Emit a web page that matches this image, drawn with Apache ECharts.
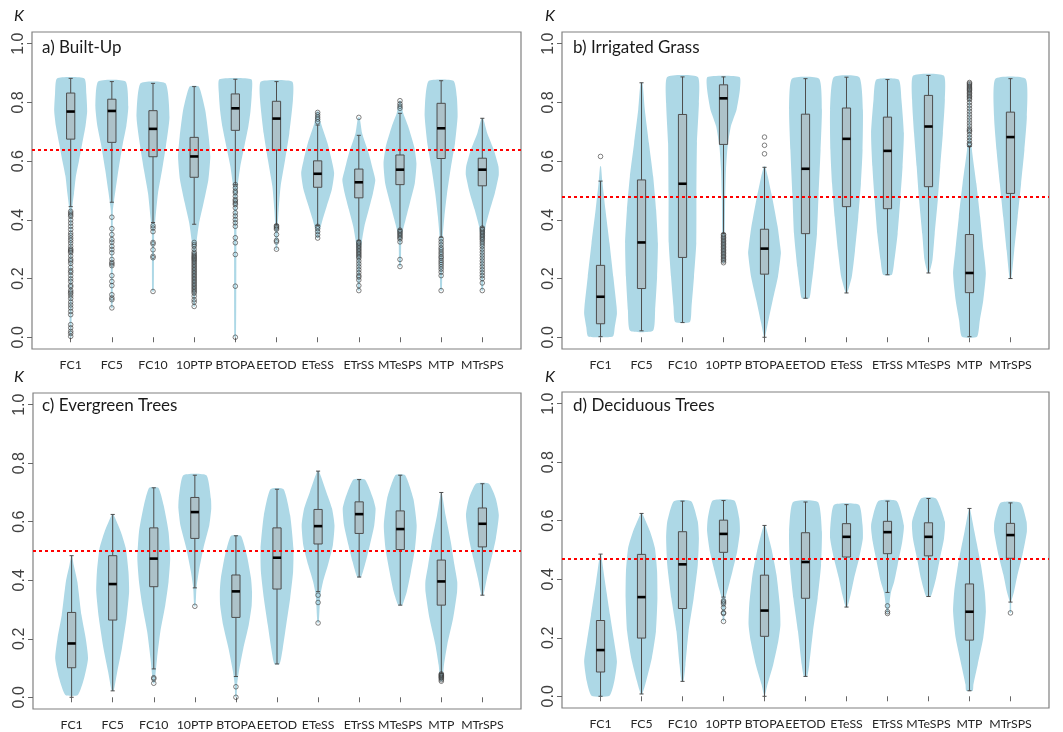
<!DOCTYPE html>
<html><head><meta charset="utf-8">
<script src="https://cdn.jsdelivr.net/npm/echarts@6/dist/echarts.min.js"></script>
<style>html,body{margin:0;padding:0;background:#fff}#c{width:1063px;height:732px}</style>
</head><body><div id="c"></div>
<script>
const categories = ['FC1','FC5','FC10','10PTP','BTOPA','EETOD','ETeSS','ETrSS','MTeSPS','MTP','MTrSPS'];
const yTicks = [0, 0.2, 0.4, 0.6, 0.8, 1.0];
const panelTitles = ['a) Built-Up', 'b) Irrigated Grass', 'c) Evergreen Trees', 'd) Deciduous Trees'];
const refLines = [0.637, 0.476, 0.499, 0.469];

// box stats per category: [lower whisker, Q1, median, Q3, upper whisker]
const boxA = [[0.445,0.675,0.769,0.832,0.882],[0.460,0.664,0.771,0.811,0.871],[0.391,0.615,0.71,0.772,0.865],[0.385,0.545,0.616,0.681,0.854],[0.52,0.705,0.78,0.829,0.879],[0.383,0.638,0.745,0.804,0.871],[0.381,0.511,0.557,0.601,0.723],[0.329,0.475,0.528,0.573,0.688],[0.368,0.52,0.571,0.621,0.763],[0.341,0.609,0.712,0.797,0.874],[0.375,0.516,0.571,0.61,0.746]];
const boxB = [[0.002,0.046,0.138,0.245,0.532],[0.022,0.166,0.323,0.536,0.867],[0.05,0.272,0.523,0.759,0.887],[0.353,0.657,0.814,0.86,0.887],[0.0,0.215,0.302,0.368,0.579],[0.133,0.353,0.574,0.76,0.881],[0.151,0.445,0.676,0.781,0.886],[0.213,0.438,0.635,0.75,0.878],[0.219,0.513,0.718,0.824,0.892],[0.002,0.152,0.219,0.35,0.65],[0.2,0.49,0.682,0.767,0.881]];
const boxC = [[0.0,0.101,0.184,0.29,0.484],[0.022,0.264,0.387,0.484,0.625],[0.097,0.378,0.474,0.579,0.716],[0.374,0.543,0.633,0.683,0.759],[0.071,0.273,0.362,0.418,0.552],[0.114,0.37,0.477,0.579,0.711],[0.361,0.524,0.585,0.642,0.773],[0.411,0.56,0.626,0.668,0.744],[0.315,0.505,0.575,0.637,0.759],[0.082,0.315,0.396,0.469,0.70],[0.349,0.514,0.593,0.647,0.73]];
const boxD = [[0.0,0.083,0.158,0.259,0.486],[0.008,0.199,0.339,0.485,0.625],[0.051,0.3,0.451,0.5625,0.667],[0.339,0.492,0.555,0.602,0.669],[0.0,0.205,0.293,0.414,0.584],[0.068,0.335,0.459,0.559,0.664],[0.305,0.476,0.545,0.59,0.655],[0.355,0.4875,0.561,0.598,0.667],[0.341,0.48,0.545,0.593,0.676],[0.019,0.192,0.289,0.384,0.642],[0.322,0.4716,0.551,0.591,0.661]];

// violin outlines: [K value, relative half-width] from top to bottom
const violinA = [
 [[0.882,0.83],[0.83,0.95],[0.77,1.0],[0.72,0.9],[0.66,0.7],[0.60,0.5],[0.55,0.32],[0.49,0.2],[0.445,0.1],[0.40,0.06],[0.0,0.05]],
 [[0.871,0.83],[0.786,1.0],[0.72,0.88],[0.661,0.67],[0.57,0.4],[0.50,0.22],[0.468,0.14],[0.43,0.06],[0.10,0.05]],
 [[0.865,0.76],[0.75,1.0],[0.65,0.78],[0.57,0.55],[0.49,0.3],[0.40,0.14],[0.355,0.07],[0.156,0.05]],
 [[0.854,0.28],[0.774,0.67],[0.684,0.88],[0.616,0.98],[0.536,0.86],[0.457,0.57],[0.389,0.3],[0.332,0.16],[0.287,0.08],[0.105,0.05]],
 [[0.879,0.97],[0.83,1.0],[0.77,0.92],[0.718,0.79],[0.638,0.5],[0.582,0.3],[0.525,0.16],[0.47,0.08],[0.0,0.05]],
 [[0.871,0.95],[0.81,1.0],[0.695,0.78],[0.604,0.52],[0.514,0.25],[0.434,0.13],[0.383,0.08],[0.298,0.05]],
 [[0.769,0.06],[0.729,0.2],[0.661,0.6],[0.604,0.85],[0.559,1.0],[0.503,0.86],[0.446,0.55],[0.40,0.3],[0.366,0.14],[0.338,0.06]],
 [[0.749,0.05],[0.695,0.2],[0.627,0.6],[0.57,0.86],[0.536,1.0],[0.491,0.86],[0.434,0.6],[0.378,0.34],[0.332,0.2],[0.287,0.1],[0.159,0.05]],
 [[0.806,0.05],[0.763,0.2],[0.718,0.5],[0.65,0.86],[0.593,1.0],[0.525,0.9],[0.457,0.6],[0.40,0.34],[0.36,0.16],[0.332,0.08],[0.241,0.05]],
 [[0.874,0.75],[0.82,0.95],[0.752,1.0],[0.661,0.84],[0.582,0.6],[0.491,0.36],[0.412,0.2],[0.344,0.1],[0.159,0.05]],
 [[0.746,0.05],[0.695,0.3],[0.638,0.7],[0.582,0.98],[0.553,1.0],[0.491,0.76],[0.434,0.46],[0.378,0.2],[0.332,0.1],[0.159,0.05]]
];
const violinB = [
 [[0.582,0.03],[0.536,0.1],[0.434,0.3],[0.32,0.55],[0.206,0.78],[0.104,0.98],[0.08,1.0],[0.035,0.87],[0.003,0.75]],
 [[0.867,0.06],[0.776,0.2],[0.662,0.45],[0.548,0.71],[0.434,0.89],[0.32,1.0],[0.206,0.95],[0.092,0.83],[0.022,0.7]],
 [[0.887,0.93],[0.798,1.0],[0.662,0.88],[0.491,0.85],[0.32,0.84],[0.206,0.7],[0.104,0.55],[0.052,0.45]],
 [[0.887,0.98],[0.844,1.0],[0.776,0.8],[0.719,0.45],[0.65,0.25],[0.571,0.15],[0.468,0.1],[0.354,0.08],[0.254,0.05]],
 [[0.582,0.04],[0.548,0.2],[0.468,0.5],[0.377,0.8],[0.309,0.96],[0.286,1.0],[0.206,0.82],[0.126,0.5],[0.047,0.2],[0.0,0.03]],
 [[0.881,0.83],[0.776,1.0],[0.638,0.92],[0.49,0.8],[0.353,0.7],[0.239,0.5],[0.171,0.35],[0.133,0.23]],
 [[0.886,0.78],[0.775,1.0],[0.638,0.98],[0.524,0.88],[0.41,0.72],[0.296,0.52],[0.205,0.32],[0.151,0.05]],
 [[0.878,0.68],[0.81,0.85],[0.696,1.0],[0.582,0.92],[0.468,0.78],[0.353,0.62],[0.262,0.42],[0.213,0.27]],
 [[0.892,0.93],[0.81,1.0],[0.696,0.88],[0.582,0.72],[0.468,0.57],[0.353,0.38],[0.262,0.24],[0.219,0.05]],
 [[0.87,0.04],[0.70,0.06],[0.638,0.15],[0.524,0.42],[0.41,0.65],[0.296,0.86],[0.217,1.0],[0.125,0.84],[0.057,0.63],[0.002,0.46]],
 [[0.881,0.92],[0.752,1.0],[0.638,0.85],[0.524,0.65],[0.41,0.44],[0.296,0.23],[0.2,0.05]]
];
const violinC = [
 [[0.484,0.03],[0.452,0.13],[0.395,0.35],[0.281,0.6],[0.201,0.86],[0.133,1.0],[0.065,0.76],[0.008,0.38]],
 [[0.625,0.05],[0.565,0.5],[0.509,0.8],[0.429,0.96],[0.361,1.0],[0.27,0.84],[0.167,0.56],[0.088,0.28],[0.022,0.06]],
 [[0.716,0.28],[0.656,0.6],[0.565,0.9],[0.474,1.0],[0.395,0.9],[0.315,0.7],[0.224,0.4],[0.133,0.2],[0.065,0.08],[0.048,0.05]],
 [[0.759,0.7],[0.679,0.98],[0.645,1.0],[0.588,0.88],[0.509,0.52],[0.429,0.24],[0.375,0.1],[0.311,0.04]],
 [[0.552,0.3],[0.486,0.66],[0.406,0.92],[0.361,0.98],[0.315,0.96],[0.247,0.78],[0.167,0.45],[0.088,0.18],[0.042,0.07],[0.0,0.04]],
 [[0.711,0.4],[0.622,0.8],[0.509,1.0],[0.429,0.98],[0.338,0.8],[0.247,0.56],[0.167,0.35],[0.114,0.16]],
 [[0.773,0.05],[0.702,0.5],[0.645,0.85],[0.588,1.0],[0.52,0.9],[0.452,0.6],[0.395,0.3],[0.349,0.14],[0.254,0.04]],
 [[0.744,0.35],[0.679,0.85],[0.645,1.0],[0.588,0.92],[0.52,0.65],[0.463,0.4],[0.411,0.12]],
 [[0.759,0.3],[0.679,0.8],[0.588,1.0],[0.509,0.9],[0.429,0.65],[0.361,0.4],[0.315,0.12]],
 [[0.70,0.03],[0.622,0.26],[0.531,0.58],[0.452,0.8],[0.395,0.97],[0.36,0.96],[0.27,0.72],[0.179,0.36],[0.11,0.16],[0.055,0.06]],
 [[0.73,0.4],[0.679,0.82],[0.622,1.0],[0.543,0.82],[0.474,0.55],[0.406,0.27],[0.349,0.06]]
];
const violinD = [
 [[0.486,0.03],[0.392,0.27],[0.278,0.58],[0.188,0.83],[0.119,1.0],[0.051,0.84],[0.002,0.55]],
 [[0.625,0.05],[0.563,0.52],[0.506,0.82],[0.426,0.95],[0.335,0.97],[0.222,0.88],[0.131,0.63],[0.051,0.28],[0.008,0.05]],
 [[0.667,0.53],[0.597,0.93],[0.54,1.0],[0.449,0.93],[0.335,0.68],[0.222,0.37],[0.108,0.18],[0.051,0.06]],
 [[0.669,0.66],[0.608,0.96],[0.563,1.0],[0.494,0.83],[0.426,0.54],[0.369,0.28],[0.339,0.13],[0.256,0.04]],
 [[0.584,0.05],[0.506,0.42],[0.415,0.73],[0.313,0.93],[0.244,0.97],[0.188,0.84],[0.108,0.53],[0.04,0.18],[0.0,0.02]],
 [[0.664,0.76],[0.563,1.0],[0.449,0.95],[0.335,0.74],[0.222,0.46],[0.108,0.23],[0.068,0.1]],
 [[0.655,0.76],[0.585,0.98],[0.54,1.0],[0.472,0.77],[0.403,0.46],[0.347,0.25],[0.305,0.05]],
 [[0.667,0.57],[0.585,1.0],[0.528,0.9],[0.449,0.62],[0.392,0.41],[0.352,0.2],[0.283,0.04]],
 [[0.676,0.46],[0.597,1.0],[0.54,0.95],[0.472,0.7],[0.403,0.46],[0.341,0.14]],
 [[0.642,0.03],[0.563,0.3],[0.449,0.7],[0.358,0.93],[0.29,1.0],[0.199,0.84],[0.108,0.5],[0.04,0.24],[0.019,0.2]],
 [[0.661,0.62],[0.597,0.98],[0.5625,1.0],[0.483,0.73],[0.415,0.43],[0.358,0.22],[0.322,0.05],[0.285,0.04]]
];

// outliers per category
const outA = [
 [0.429,0.423,0.417,0.412,0.40,0.389,0.378,0.367,0.355,0.347,0.338,0.33,0.321,0.31,0.301,0.297,0.293,0.288,0.277,0.266,0.26,0.252,0.238,0.227,0.221,0.21,0.199,0.19,0.177,0.172,0.16,0.154,0.149,0.141,0.132,0.12,0.11,0.1,0.088,0.077,0.043,0.032,0.02,0.013,0.003],
 [0.409,0.37,0.35,0.333,0.324,0.31,0.299,0.288,0.265,0.255,0.25,0.244,0.21,0.19,0.176,0.145,0.134,0.128,0.10],
 [0.38,0.372,0.36,0.323,0.318,0.298,0.276,0.271,0.156],
 [0.323,0.316,0.31,0.30,0.29,0.285,0.28,0.276,0.272,0.268,0.264,0.26,0.255,0.25,0.245,0.24,0.235,0.23,0.225,0.22,0.215,0.21,0.205,0.20,0.195,0.19,0.185,0.18,0.175,0.17,0.165,0.16,0.155,0.15,0.14,0.128,0.12,0.105],
 [0.52,0.509,0.498,0.492,0.48,0.469,0.464,0.457,0.452,0.441,0.424,0.413,0.401,0.39,0.378,0.339,0.322,0.282,0.174,0.0],
 [0.38,0.376,0.372,0.368,0.35,0.33,0.325,0.30],
 [0.766,0.758,0.75,0.743,0.734,0.378,0.37,0.36,0.349,0.338],
 [0.749,0.325,0.32,0.315,0.31,0.305,0.30,0.295,0.29,0.285,0.28,0.275,0.27,0.26,0.25,0.24,0.23,0.22,0.21,0.205,0.195,0.176,0.159],
 [0.806,0.795,0.787,0.78,0.365,0.36,0.355,0.35,0.345,0.34,0.335,0.325,0.265,0.241],
 [0.335,0.325,0.315,0.305,0.298,0.29,0.283,0.275,0.27,0.262,0.255,0.248,0.24,0.232,0.222,0.21,0.159],
 [0.372,0.367,0.362,0.357,0.352,0.347,0.342,0.337,0.332,0.325,0.318,0.31,0.3,0.29,0.28,0.27,0.26,0.25,0.24,0.23,0.22,0.21,0.2,0.185,0.159]
];
const outB = [
 [0.616],[],[],
 [0.35,0.345,0.34,0.335,0.33,0.325,0.32,0.315,0.31,0.305,0.30,0.295,0.29,0.285,0.28,0.275,0.27,0.265,0.26,0.254],
 [0.682,0.654,0.625],[],[],[],[],
 [0.868,0.864,0.86,0.856,0.852,0.848,0.844,0.84,0.835,0.83,0.825,0.82,0.815,0.81,0.80,0.79,0.78,0.77,0.76,0.75,0.74,0.73,0.72,0.71,0.705,0.70,0.69,0.68,0.67,0.66,0.655],
 []
];
const outC = [[],[],[0.067,0.063,0.048],[0.311],[0.036,0.0],[],[0.349,0.324,0.254],[],[],[0.08,0.077,0.074,0.071,0.068,0.065,0.06,0.055],[]];
const outD = [[],[],[],[0.326,0.322,0.316,0.303,0.286,0.283,0.256],[],[],[],[0.309,0.289,0.283],[],[],[0.285]];

const boxes = [boxA, boxB, boxC, boxD];
const violins = [violinA, violinB, violinC, violinD];
const outliers = [outA, outB, outC, outD];

// layout
const grids = [
  {left: 32, top: 32, width: 489, height: 317},
  {left: 562, top: 32, width: 487, height: 317},
  {left: 33, top: 393, width: 488, height: 316},
  {left: 562, top: 392, width: 487, height: 316}
];
const HW = 0.40, BW = 0.10, CAP = 0.05;
const positions = categories.map((c, i) => i + 1);

function violinRender(prof) {
  return function (params, api) {
    const p = prof[params.dataIndex];
    const x = params.dataIndex + 1;
    const right = p.map(d => api.coord([x + d[1] * HW, d[0]]));
    const left = p.slice().reverse().map(d => api.coord([x - d[1] * HW, d[0]]));
    return {type: 'polygon', silent: true,
      shape: {points: right.concat(left), smooth: 0.18},
      style: {fill: '#add8e6', stroke: null}};
  };
}
function boxRender(st) {
  return function (params, api) {
    const s = st[params.dataIndex];
    const x = params.dataIndex + 1;
    const c = (a, b) => api.coord([a, b]);
    const ln = (p1, p2, w, col) => ({type: 'line', silent: true,
      shape: {x1: p1[0], y1: p1[1], x2: p2[0], y2: p2[1]},
      style: {stroke: col || '#4d4d4d', lineWidth: w || 1}});
    const tl = c(x - BW, s[3]), br = c(x + BW, s[1]);
    return {type: 'group', children: [
      ln(c(x, s[3]), c(x, s[4])),
      ln(c(x, s[1]), c(x, s[0])),
      ln(c(x - CAP, s[4]), c(x + CAP, s[4])),
      ln(c(x - CAP, s[0]), c(x + CAP, s[0])),
      {type: 'rect', silent: true, shape: {x: tl[0], y: tl[1], width: br[0] - tl[0], height: br[1] - tl[1]},
        style: {fill: '#adc2c9', stroke: '#4d4d4d', lineWidth: 1}},
      ln(c(x - BW, s[2]), c(x + BW, s[2]), 2.6, '#000')
    ]};
  };
}

const option = {
  animation: false,
  backgroundColor: '#fff',
  grid: grids.map(g => Object.assign({show: true, borderColor: '#808080', borderWidth: 1.2, backgroundColor: 'transparent', containLabel: false}, g)),
  title: [],
  xAxis: [], yAxis: [], series: [],
  graphic: []
};

const titlePos = [[42, 39], [573, 39], [42, 397], [573, 397]];
const kPos = [[19, 17], [550, 17], [19, 378], [550, 378]];

for (let k = 0; k < 4; k++) {
  option.title.push({text: panelTitles[k], left: titlePos[k][0], top: titlePos[k][1], padding: 0,
    textStyle: {fontFamily: 'Lato', fontSize: 17, fontWeight: 'normal', color: '#1a1a1a'}});
  option.graphic.push({type: 'text', left: kPos[k][0] - 5, top: kPos[k][1] - 9,
    style: {text: 'K', font: 'italic 16px Lato', fill: '#1a1a1a'}});
  option.xAxis.push({type: 'value', gridIndex: k, min: 0.06, max: 11.94,
    axisLine: {show: false}, splitLine: {show: false},
    axisTick: {show: true, customValues: positions, length: 5, lineStyle: {color: '#666'}},
    axisLabel: {customValues: positions, margin: 10, fontFamily: 'Lato', fontSize: 12.3, color: '#262626',
      formatter: v => categories[Math.round(v) - 1]}});
  option.yAxis.push({type: 'value', gridIndex: k, min: -0.04, max: 1.04,
    axisLine: {show: false}, splitLine: {show: false},
    axisTick: {show: true, customValues: yTicks, length: 5, lineStyle: {color: '#666'}},
    axisLabel: {customValues: yTicks, rotate: 90, margin: 5, fontFamily: 'Arial', fontSize: 16, color: '#404040',
      formatter: v => v.toFixed(1)}});
  const baseData = positions.map((p, i) => [p, boxes[k][i][2]]);
  option.series.push({type: 'custom', xAxisIndex: k, yAxisIndex: k, renderItem: violinRender(violins[k]), data: baseData, z: 1, silent: true});
  option.series.push({type: 'custom', xAxisIndex: k, yAxisIndex: k, renderItem: boxRender(boxes[k]), data: baseData, z: 2, silent: true});
  const od = [];
  outliers[k].forEach((arr, i) => arr.forEach(v => od.push([i + 1, v])));
  option.series.push({type: 'scatter', xAxisIndex: k, yAxisIndex: k, data: od, z: 3, silent: true,
    symbol: 'circle', symbolSize: 4.6,
    itemStyle: {color: 'rgba(0,0,0,0)', borderColor: '#3a3a3a', borderWidth: 0.8},
    markLine: {silent: true, symbol: 'none', label: {show: false}, z: 5,
      lineStyle: {color: '#ff0000', type: [3, 3], width: 2},
      data: [{yAxis: refLines[k]}]}});
}

const chart = echarts.init(document.getElementById('c'), null, {renderer: 'canvas'});
chart.setOption(option);
</script>
</body></html>
